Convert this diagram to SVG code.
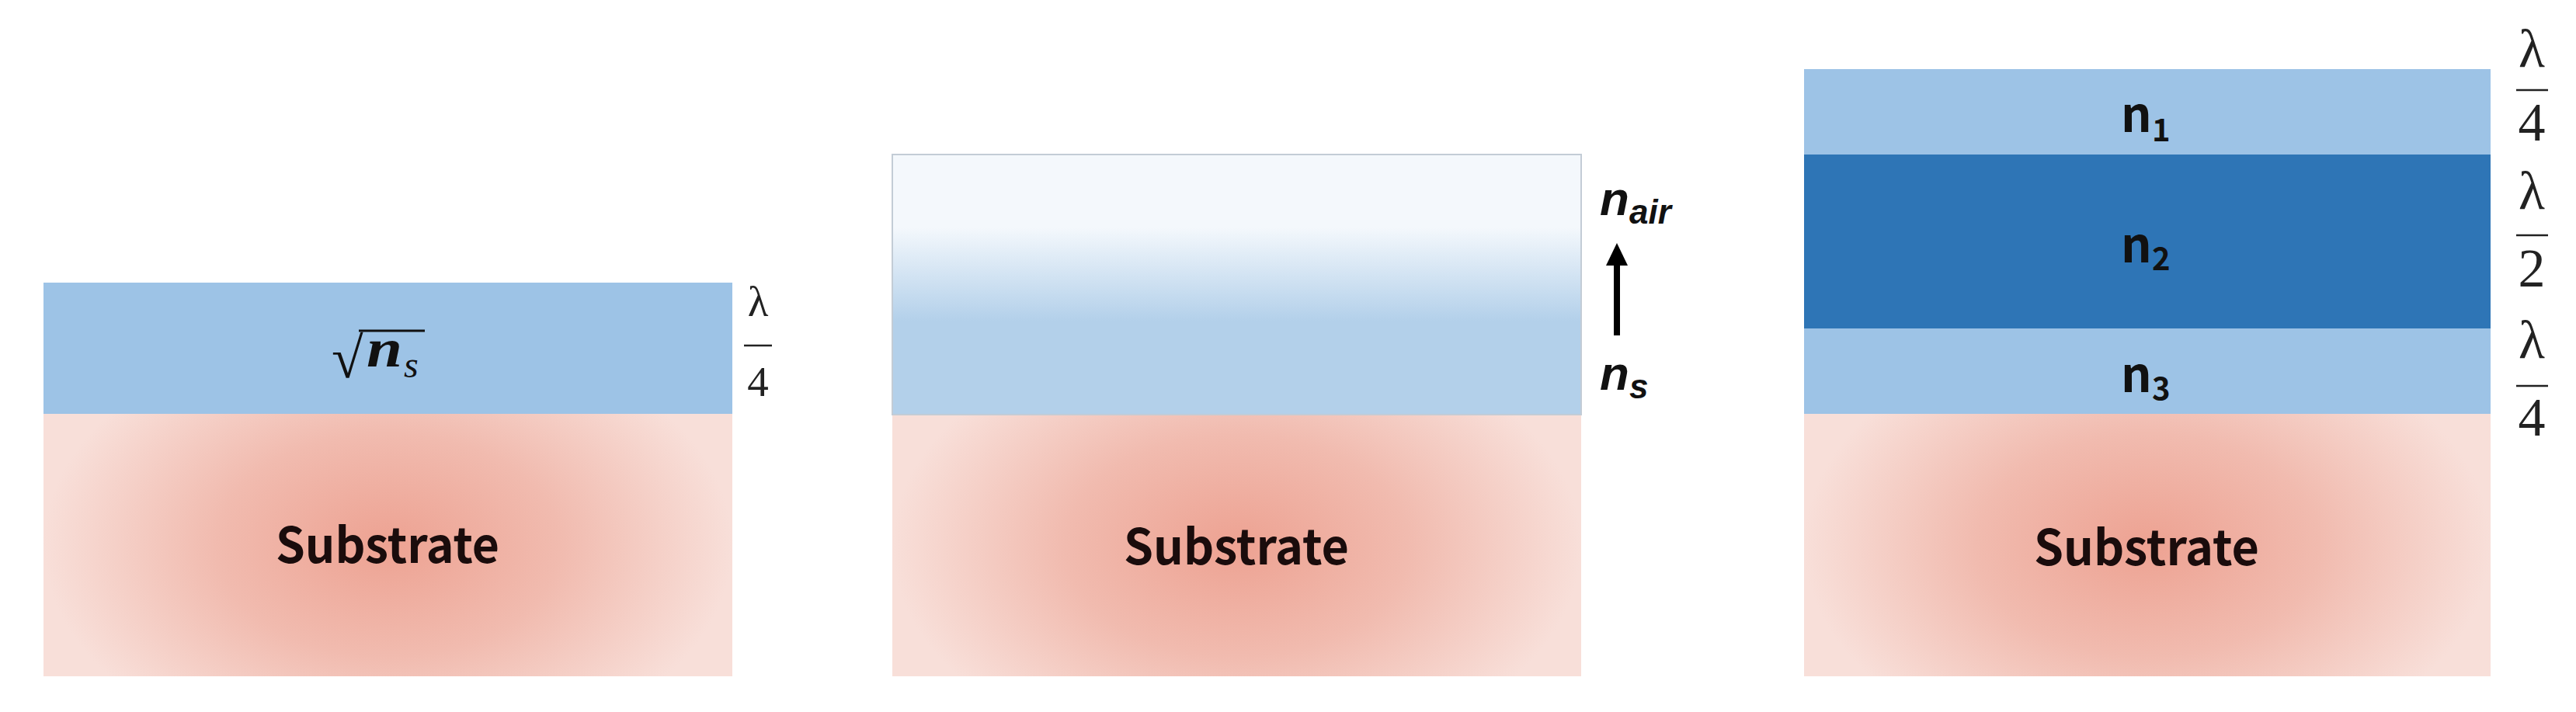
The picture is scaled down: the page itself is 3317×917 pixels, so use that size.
<svg xmlns="http://www.w3.org/2000/svg" width="3317" height="917" viewBox="0 0 3317 917">
<defs>
<radialGradient id="subGrad" cx="0.5" cy="0.5" r="0.5" gradientTransform="translate(0.5,0.5) scale(1,1.7) translate(-0.5,-0.5)">
<stop offset="0" stop-color="#EDA292"/>
<stop offset="0.5" stop-color="#F1BBAF"/>
<stop offset="1" stop-color="#F8DFD9"/>
</radialGradient>
<linearGradient id="airGrad" x1="0" y1="0" x2="0" y2="1">
<stop offset="0" stop-color="#F4F8FC"/>
<stop offset="0.28" stop-color="#F4F8FC"/>
<stop offset="0.64" stop-color="#B3D0EA"/>
<stop offset="1" stop-color="#B3D0EA"/>
</linearGradient>
<style>
.light{fill:#9DC3E6}
.dark{fill:#2E75B6}
.sub{fill:url(#subGrad)}
.lbl{font-family:"Noto Sans CJK SC","Noto Sans",sans-serif;font-weight:700;font-size:63px;fill:#1A0C0C;text-anchor:middle}
.nlbl{font-family:"Noto Sans CJK SC","Noto Sans",sans-serif;font-weight:700;fill:#111}
.lam{font-family:"Liberation Serif","DejaVu Serif",serif;fill:#222;text-anchor:middle}
.bar{stroke:#222;stroke-width:2.5}
.ital{font-family:"Liberation Sans",Arial,sans-serif;font-style:italic;font-weight:700;fill:#111}
</style>
</defs>

<g id="panel1">
<g id="p1-layer">
<rect class="light" x="56" y="364" width="887" height="169"/>
<text x="427" y="486" font-family="'Liberation Serif',serif" font-size="74" fill="#111">√</text>
<line x1="462" y1="426" x2="547" y2="426" stroke="#111" stroke-width="3"/>
<text x="472" y="472" font-family="'Liberation Serif',serif" font-weight="700" font-style="italic" font-size="70" fill="#111" textLength="46" lengthAdjust="spacingAndGlyphs">n</text>
<text x="520" y="486" font-family="'Liberation Serif',serif" font-style="italic" font-size="48" fill="#111">s</text>
</g>
<g id="p1-substrate">
<rect class="sub" x="56" y="533" width="887" height="338"/>
<text class="lbl" x="499" y="725" textLength="288" lengthAdjust="spacingAndGlyphs">Substrate</text>
</g>
<g id="p1-thickness">
<text class="lam" x="976" y="407" font-size="55">λ</text>
<line class="bar" x1="958" y1="445" x2="994" y2="445"/>
<text class="lam" x="976" y="510" font-size="55">4</text>
</g>
</g>

<g id="panel2">
<g id="p2-layer">
<rect x="1149" y="199" width="887" height="335" fill="url(#airGrad)" stroke="#C3CCD6" stroke-width="2"/>
</g>
<g id="p2-substrate">
<rect class="sub" x="1149" y="535" width="887" height="336"/>
<text class="lbl" x="1592" y="727" textLength="290" lengthAdjust="spacingAndGlyphs">Substrate</text>
</g>
<g id="p2-nair">
<text class="ital" x="2060" y="277" font-size="62">n</text>
<text class="ital" x="2098" y="288" font-size="44" font-weight="400">air</text>
</g>
<g id="p2-ns">
<text class="ital" x="2060" y="502" font-size="62">n</text>
<text class="ital" x="2098" y="513" font-size="44" font-weight="400">s</text>
</g>
</g>

<g id="panel3">
<g id="p3-n1">
<rect class="light" x="2323" y="89" width="884" height="110"/>
<text class="nlbl" x="2731" y="170" font-size="62">n</text>
<text class="nlbl" x="2771" y="182" font-size="40" font-weight="400">1</text>
</g>
<g id="p3-n2">
<rect class="dark" x="2323" y="199" width="884" height="224"/>
<text class="nlbl" x="2731" y="338" font-size="62">n</text>
<text class="nlbl" x="2771" y="348" font-size="40" font-weight="400">2</text>
</g>
<g id="p3-n3">
<rect class="light" x="2323" y="423" width="884" height="110"/>
<text class="nlbl" x="2731" y="505" font-size="62">n</text>
<text class="nlbl" x="2771" y="515" font-size="40" font-weight="400">3</text>
</g>
<g id="p3-substrate">
<rect class="sub" x="2323" y="533" width="884" height="338"/>
<text class="lbl" x="2764" y="728" textLength="290" lengthAdjust="spacingAndGlyphs">Substrate</text>
</g>
<g id="p3-thickness">
<text class="lam" x="3260" y="86" font-size="70">λ</text>
<line class="bar" x1="3240" y1="116" x2="3281" y2="116"/>
<text class="lam" x="3260" y="181" font-size="70">4</text>
<text class="lam" x="3260" y="269" font-size="70">λ</text>
<line class="bar" x1="3240" y1="303" x2="3281" y2="303"/>
<text class="lam" x="3260" y="369" font-size="70">2</text>
<text class="lam" x="3260" y="461" font-size="70">λ</text>
<line class="bar" x1="3240" y1="497" x2="3281" y2="497"/>
<text class="lam" x="3260" y="561" font-size="70">4</text>
</g>
</g>

<g id="connectors">
<line x1="2082" y1="432" x2="2082" y2="338" stroke="#000" stroke-width="8"/>
<polygon points="2082,313 2068,342 2096,342" fill="#000"/>
</g>
</svg>
